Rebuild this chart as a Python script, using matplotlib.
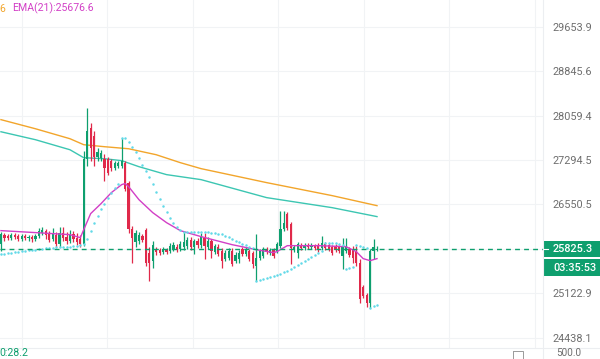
import matplotlib
matplotlib.use("Agg")
import matplotlib.pyplot as plt
from matplotlib.lines import Line2D
from matplotlib.patches import Rectangle
from matplotlib.ticker import NullLocator

plt.rcParams['font.family'] = ['Roboto', 'DejaVu Sans']

# ---------------- data ----------------
opens = [25910, 26056, 26040, 26008, 26056, 26040, 25991, 26040, 26008, 26024,
         25991, 26040, 26089, 26121, 26089, 25991, 26056, 25910, 26089, 26024,
         25959, 26072, 26008, 25991, 25910, 27316, 27847, 27709, 27350, 27333,
         27316, 27316, 27283, 27165, 27198, 27198, 27249, 26913, 26153, 25943,
         25959, 26040, 26137, 25766, 25638, 25830, 25814, 25782, 25814, 25798,
         25830, 25862, 25830, 25862, 25878, 25975, 25862, 25959, 25894, 26008,
         25862, 25959, 25782, 25862, 25798, 25670, 25686, 25798, 25638, 25670,
         25830, 25750, 25798, 25766, 25559, 25686, 25718, 25830, 25766, 25814,
         25798, 25878, 26153, 26399, 26235, 25814, 25766, 25894, 25846, 25894,
         25862, 25894, 25894, 25846, 25910, 25894, 25862, 25878, 25862, 25718,
         25798, 25830, 25830, 25798, 25606, 25228, 25103, 24977, 25798, 25810]
highs = [26105, 26089, 26072, 26089, 26089, 26072, 26072, 26072, 26056, 26056,
         26072, 26170, 26186, 26153, 26121, 26170, 26105, 26186, 26186, 26105,
         26137, 26121, 26089, 26056, 27452, 28183, 27935, 27795, 27504, 27469,
         27401, 27350, 27316, 27283, 27283, 27675, 27283, 26947, 26202, 26137,
         26105, 26072, 26170, 25862, 25959, 25862, 25846, 25862, 25846, 25927,
         25943, 25910, 25959, 26121, 26024, 26024, 25991, 26008, 26089, 26089,
         26024, 25991, 25910, 25910, 25846, 25814, 25846, 25846, 25782, 25814,
         25862, 25862, 25830, 25798, 26072, 25830, 25862, 25862, 25846, 25846,
         25943, 26448, 26448, 26432, 26268, 25894, 25943, 25927, 25927, 25927,
         25927, 25910, 25927, 26040, 25943, 25927, 25894, 25910, 25894, 26008,
         26008, 25862, 25878, 25878, 25670, 25260, 25134, 25830, 25991, 25878]
lows = [25798, 25959, 25975, 25975, 25991, 25959, 25959, 25975, 25959, 25943,
        25959, 26008, 26056, 25991, 25943, 25959, 25862, 25862, 25959, 25910,
        25927, 25943, 25894, 25862, 25878, 27198, 27283, 27198, 27283, 27283,
        26947, 27047, 27114, 27131, 27165, 27165, 26780, 26089, 25606, 25862,
        25910, 25943, 25559, 25322, 25527, 25734, 25734, 25750, 25750, 25766,
        25798, 25782, 25798, 25814, 25830, 25814, 25750, 25846, 25846, 25670,
        25830, 25686, 25750, 25718, 25527, 25638, 25654, 25559, 25606, 25606,
        25718, 25718, 25638, 25527, 25322, 25654, 25686, 25750, 25734, 25686,
        25766, 25846, 26121, 26137, 25590, 25782, 25686, 25814, 25814, 25830,
        25830, 25814, 25782, 25814, 25814, 25798, 25734, 25782, 25766, 25511,
        25766, 25702, 25606, 25559, 24977, 25056, 24915, 24899, 25670, 25798]
closes = [26072, 26008, 26008, 26056, 26024, 25991, 26040, 26008, 26024, 25991,
          26040, 26121, 26137, 26056, 25975, 26072, 25910, 26089, 26008, 25959,
          26072, 25991, 25943, 25910, 27316, 27795, 27504, 27350, 27435, 27418,
          27165, 27081, 27165, 27249, 27249, 27283, 26813, 26153, 26008, 26089,
          26056, 25975, 25606, 25606, 25894, 25782, 25766, 25830, 25782, 25878,
          25894, 25814, 25910, 25943, 25975, 25862, 25959, 25894, 26024, 25878,
          25959, 25798, 25878, 25750, 25638, 25766, 25798, 25590, 25734, 25766,
          25750, 25830, 25670, 25590, 25686, 25798, 25830, 25782, 25814, 25718,
          25910, 26153, 26251, 26170, 25846, 25862, 25910, 25846, 25894, 25862,
          25894, 25846, 25830, 25927, 25846, 25814, 25766, 25814, 25798, 25862,
          25862, 25734, 25686, 25606, 25040, 25087, 24977, 25798, 25862, 25825.3]

# long EMAs, read at sample candles
ema_long_idx = [0, 10, 20, 24, 30, 37, 45, 52, 58, 77, 96, 109]
ema_orange = [27988, 27830, 27658, 27555, 27521, 27486, 27384, 27249, 27148, 26913, 26696, 26530]
ema_teal_idx = [0, 10, 20, 24, 30, 35, 40, 48, 58, 77, 96, 109]
ema_teal = [27778, 27641, 27469, 27333, 27316, 27283, 27181, 27047, 26963, 26663, 26497, 26350]

# EMA(21), read at sample candles
ema21_idx = [0, 10, 20, 23, 24, 26, 29, 32, 35, 36, 37, 40, 44, 48, 52, 58, 67, 74,
             79, 80, 83, 92, 100, 103, 105, 107, 109]
ema21 = [26121, 26089, 26056, 26007, 26137, 26399, 26563, 26746, 26880, 26897, 26846,
         26629, 26415, 26251, 26121, 26024, 25894, 25814, 25766, 25782, 25878, 25878,
         25862, 25782, 25670, 25638, 25670]

# parabolic SAR, one dot per candle
sar = [25750, 25750, 25766, 25766, 25782, 25782, 25798, 25798, 25814, 25814,
       25814, 25830, 25830, 25846, 25846, 25846, 25862, 25862, 25862, 25862,
       25862, 25878, 25878, 25894, 25910, 25991, 26121, 26251, 26366, 26481,
       26563, 26663, 26746, 26830, 26897, 27675, 27675, 27607, 27521, 27435,
       27333, 27215, 27114, 27014, 26897, 26763, 26646, 26530, 26432, 26333,
       26251, 26186, 26137, 26105, 26105, 26105, 26105, 26105, 26105, 26105,
       26105, 26089, 26089, 26072, 26072, 26040, 26024, 25991, 25959, 25943,
       25910, 25894, 25862, 25846, 25322, 25338, 25354, 25369, 25385, 25401,
       25417, 25433, 25464, 25480, 25511, 25543, 25575, 25606, 25638, 25670,
       25702, 25734, 25766, 25798, 25927, 25927, 25927, 25927, 25910, 25894,
       25511, 25527, 25543, 25894, 25878, 25862, 25846, 24899, 24930, 24946]

tick_values = [29653.9, 28845.6, 28059.4, 27294.5, 26550.5, 25827.4, 25122.9, 24438.1]
tick_labels = ["29653.9", "28845.6", "28059.4", "27294.5", "26550.5", "", "25122.9", "24438.1"]
vgrid_idx = [6.0, 30.8, 55.6, 80.4, 105.2, 130.0, 154.8]
countdown = "03:35:53"
legend_left = "6"
legend_ema = "EMA(21):25676.6"
vol_text = "0:28.2"
vol_tick = "500.0"

# ---------------- styling ----------------
GREEN = '#0e9f6e'
RED = '#e0294a'
ORANGE = '#f2a52b'
TEAL = '#3cc6b2'
MAGENTA = '#d23fc6'
SARC = '#62d9e8'
GRID = '#f1f3f5'
TXT = '#6e6e6e'

W, H = 600, 359
fig = plt.figure(figsize=(W / 100, H / 100), dpi=100)
fig.patch.set_facecolor('white')

plot_right = 543
pane_bottom = 348
ax = fig.add_axes([0, (H - pane_bottom) / H, plot_right / W, pane_bottom / H])
ax.set_yscale('log')
ax.set_ylim(24282, 30150.5)
x0, step = 0.95, 3.45
ax.set_xlim(-x0 / step, (plot_right - x0) / step)
for s in ax.spines.values():
    s.set_visible(False)

n = len(closes)
xs = list(range(n))

# grid
ax.set_yticks(tick_values)
ax.set_yticklabels(tick_labels)
ax.yaxis.set_minor_locator(NullLocator())
ax.set_xticks(vgrid_idx)
ax.set_xticklabels([])
ax.tick_params(axis='x', length=0)
ax.tick_params(axis='y', left=False, right=False, labelleft=False, labelright=True,
               length=0, pad=7, labelsize=7.8, labelcolor=TXT)
ax.grid(True, color=GRID, lw=0.8, zorder=0)

# EMAs
ax.plot(ema_long_idx, ema_orange, color=ORANGE, lw=1.0, zorder=2)
ax.plot(ema_teal_idx, ema_teal, color=TEAL, lw=1.0, zorder=2)

# candles
for i in xs:
    o, h, l, c = opens[i], highs[i], lows[i], closes[i]
    col = GREEN if c >= o else RED
    ax.vlines(i, l, h, color=col, lw=0.9, zorder=3)
    lo, hi = min(o, c), max(o, c)
    if hi - lo < lo * 0.0005:
        hi = lo * 1.0005
    ax.bar(i, hi - lo, bottom=lo, width=0.66, color=col, edgecolor=col, lw=0, zorder=4)

# EMA21
ax.plot(ema21_idx, ema21, color=MAGENTA, lw=1.0, zorder=5)

# SAR dots
ax.scatter(xs, sar, s=3.2, color=SARC, lw=0, zorder=6)

# last price dashed line
last = closes[-1]
ax.axhline(last, color=GREEN, lw=1.0, ls=(0, (3.5, 3)), zorder=6)

# ---------------- overlay in pixel coordinates ----------------
ov = fig.add_axes([0, 0, 1, 1], facecolor='none')
ov.set_xlim(0, W)
ov.set_ylim(H, 0)
ov.axis('off')

fig.canvas.draw()
ydisp = ax.transData.transform((0, last))[1]
ypix = H - ydisp

ov.add_line(Line2D([plot_right, plot_right], [0, H], color='#eceef1', lw=0.8))
ov.add_line(Line2D([0, W], [pane_bottom, pane_bottom], color='#eceef1', lw=0.8))

ov.add_patch(Rectangle((plot_right + 0.5, ypix - 8.3), W - plot_right, 16.5, color=GREEN, lw=0))
ov.text(553, ypix + 0.3, f"{last:.1f}", color='white', fontsize=7.8, va='center', ha='left',
        fontweight='medium')
ov.add_line(Line2D([plot_right + 1, plot_right + 4.5], [ypix, ypix], color='white', lw=0.8))
ov.add_patch(Rectangle((plot_right + 0.5, ypix + 10.4), W - plot_right, 16.3, color=GREEN, lw=0))
ov.text(553, ypix + 18.6, countdown, color='white', fontsize=7.8, va='center', ha='left',
        fontweight='medium')

# legend
ov.text(-0.5, 8.5, legend_left, color=ORANGE, fontsize=7.6, va='center', ha='left')
ov.text(12, 8.5, legend_ema, color=MAGENTA, fontsize=7.6, va='center', ha='left')

# volume pane bits
ov.text(-1, 353.5, vol_text, color=GREEN, fontsize=7.6, va='center', ha='left')
ov.text(556, 353.5, vol_tick, color=TXT, fontsize=7.2, va='center', ha='left')
ov.add_patch(Rectangle((513, 351), 10, 10, fill=False, ec='#8a8a8a', lw=0.6))

fig.savefig('out.png', dpi=100, facecolor='white')
